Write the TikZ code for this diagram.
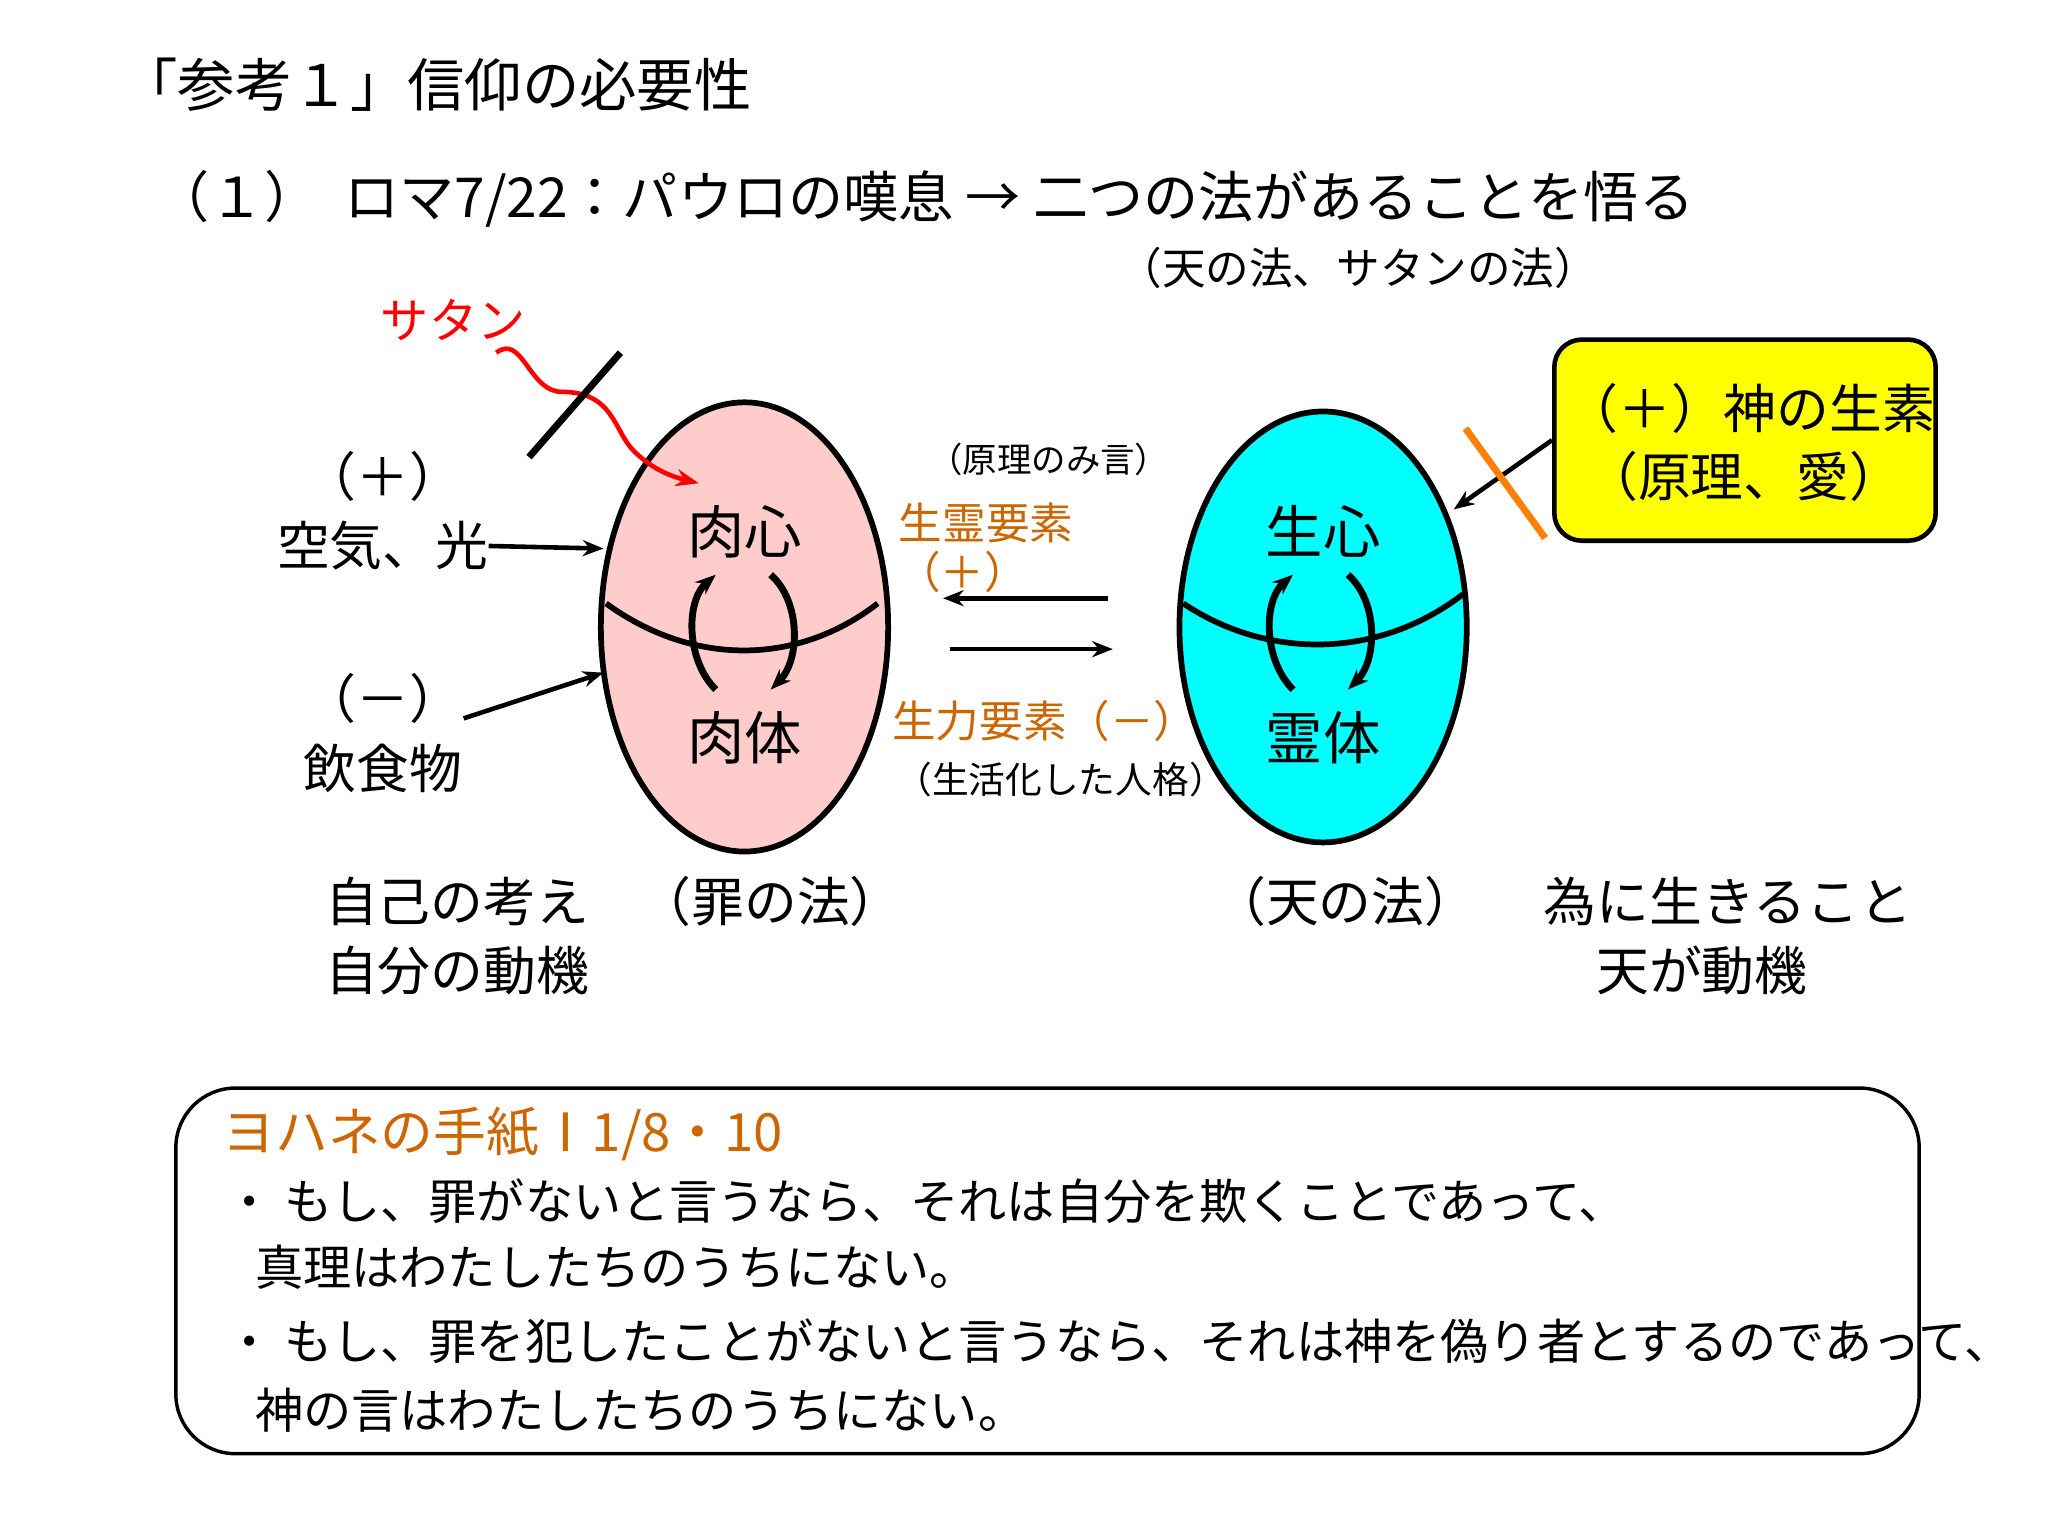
\documentclass[tikz,border=0pt]{standalone}
\usepackage{fontspec}
\setmainfont{Noto Sans CJK JP}
\usetikzlibrary{arrows.meta,shapes.geometric}
\definecolor{pinkf}{RGB}{255,204,204}
\definecolor{cyanf}{RGB}{0,255,255}
\definecolor{orng}{RGB}{204,102,0}
\definecolor{yel}{RGB}{255,255,0}
\newcommand{\fs}[1]{\fontsize{#1}{#1}\selectfont}
\begin{document}
\begin{tikzpicture}[x=0.02cm,y=-0.02cm,
  t/.style={inner sep=0pt,anchor=center},
  big/.style={t,font=\fs{25pt}},
  mid/.style={t,font=\fs{23pt}},
  sm/.style={t,font=\fs{15pt}},
  arr/.style={-{Stealth[length=9pt,width=7pt]},line width=2pt},
  carr/.style={-{Stealth[length=9pt,width=7pt]},line width=3pt},
  egg/.style={draw,line width=2.5pt,inner sep=0pt}]
\useasboundingbox (0,0) rectangle (1568,1176);
\node[big,anchor=west] (title) at (92,65) {「参考１」信仰の必要性};
\node[t,font=\fs{24pt},anchor=west] (l2) at (118,152) {（１）\ \ ロマ7/22：パウロの嘆息 → 二つの法があることを悟る};
\node[t,font=\fs{19pt}] (l3) at (1040,205) {（天の法、サタンの法）};
\node[t,font=\fs{21pt},text=red] (satan) at (347,245) {サタン};
% eggs
\node[egg,ellipse,fill=pinkf,minimum width=4.4cm,minimum height=6.88cm] (e1) at (570,480) {};
\node[egg,ellipse,fill=cyanf,minimum width=4.4cm,minimum height=6.6cm] (e2) at (1013,480) {};
\draw[line width=2.5pt] (464,462) .. controls (530,510) and (610,510) .. (672,462);
\draw[line width=2.5pt] (906,462) .. controls (970,505) and (1055,505) .. (1120,455);
\node[big] (nk) at (570,407) {肉心};
\node[big] (nt) at (570,565) {肉体};
\node[big] (sk) at (1013,407) {生心};
\node[big] (rt) at (1013,565) {霊体};
\draw[carr] (548,528) .. controls (525,505) and (525,460) .. (548,440);
\draw[carr] (590,440) .. controls (613,460) and (613,505) .. (590,528);
\draw[carr] (990,528) .. controls (967,505) and (967,460) .. (990,440);
\draw[carr] (1032,440) .. controls (1055,460) and (1055,505) .. (1032,528);
% satan arrow and slash
\coordinate (s0) at (380,270); \coordinate (s1) at (535,370);
\draw[-{Stealth[length=10pt]},red,line width=2pt] (s0) .. controls (400,255) and (405,300) .. (430,300) .. controls (470,300) and (470,330) .. (485,345) .. controls (500,360) and (515,365) .. (s1);
\coordinate (b0) at (405,350); \coordinate (b1) at (475,270);
\draw[line width=3pt] (b0) -- (b1);
% left inputs
\node[mid] (p) at (293,365) {（＋）};
\node[mid] (air) at (293,418) {空気、光};
\node[mid] (m) at (293,535) {（－）};
\node[mid] (food) at (293,588) {飲食物};
\coordinate (a1) at (462,420); \coordinate (a2) at (462,515);
\draw[arr] (air.east) -- (a1);
\coordinate (f0) at (355,550);
\draw[arr] (f0) -- (a2);
% middle
\node[sm] (gm) at (803,352) {（原理のみ言）};
\node[t,font=\fs{19pt},text=orng] (sr) at (755,400) {生霊要素};
\node[t,font=\fs{19pt},text=orng] (srp) at (737,438) {（＋）};
\coordinate (m1) at (848,458); \coordinate (m2) at (722,458);
\coordinate (m3) at (727,497); \coordinate (m4) at (852,497);
\draw[arr] (m1) -- (m2);
\draw[arr] (m3) -- (m4);
\node[t,font=\fs{19pt},text=orng] (sl) at (800,552) {生力要素（－）};
\node[t,font=\fs{16pt}] (sk2) at (812,597) {（生活化した人格）};
% yellow box
\node[draw,line width=2pt,fill=yel,rounded corners=12pt,minimum width=5.84cm,minimum height=3.08cm] (yb) at (1336,337) {};
\node[mid] (y1) at (1340,313) {（＋）神の生素};
\node[mid] (y2) at (1335,365) {（原理、愛）};
\coordinate (ya) at (1113,390);
\draw[arr] (yb.west) -- (ya);
\coordinate (o0) at (1122,328); \coordinate (o1) at (1183,412);
\draw[orange,line width=3pt] (o0) -- (o1);
% labels below
\node[mid] (j1) at (350,690) {自己の考え};
\node[mid] (j2) at (350,743) {自分の動機};
\node[mid] (zl) at (590,690) {（罪の法）};
\node[mid] (tl) at (1030,690) {（天の法）};
\node[mid] (h1) at (1323,690) {為に生きること};
\node[mid] (h2) at (1303,743) {天が動機};
% bottom box
\node[draw,line width=1.5pt,rounded corners=26pt,minimum width=26.7cm,minimum height=5.6cm] (bb) at (802,973) {};
\node[t,anchor=west,font=\fs{23pt},text=orng] (bt) at (170,868) {ヨハネの手紙Ⅰ1/8・10};
\node[t,anchor=west,font=\fs{21pt}] (b1l) at (172,920) {・ もし、罪がないと言うなら、それは自分を欺くことであって、};
\node[t,anchor=west,font=\fs{21pt}] (b2l) at (195,970) {真理はわたしたちのうちにない。};
\node[t,anchor=west,font=\fs{21pt}] (b3l) at (172,1027) {・ もし、罪を犯したことがないと言うなら、それは神を偽り者とするのであって、};
\node[t,anchor=west,font=\fs{21pt}] (b4l) at (195,1080) {神の言はわたしたちのうちにない。};
\end{tikzpicture}
\end{document}
